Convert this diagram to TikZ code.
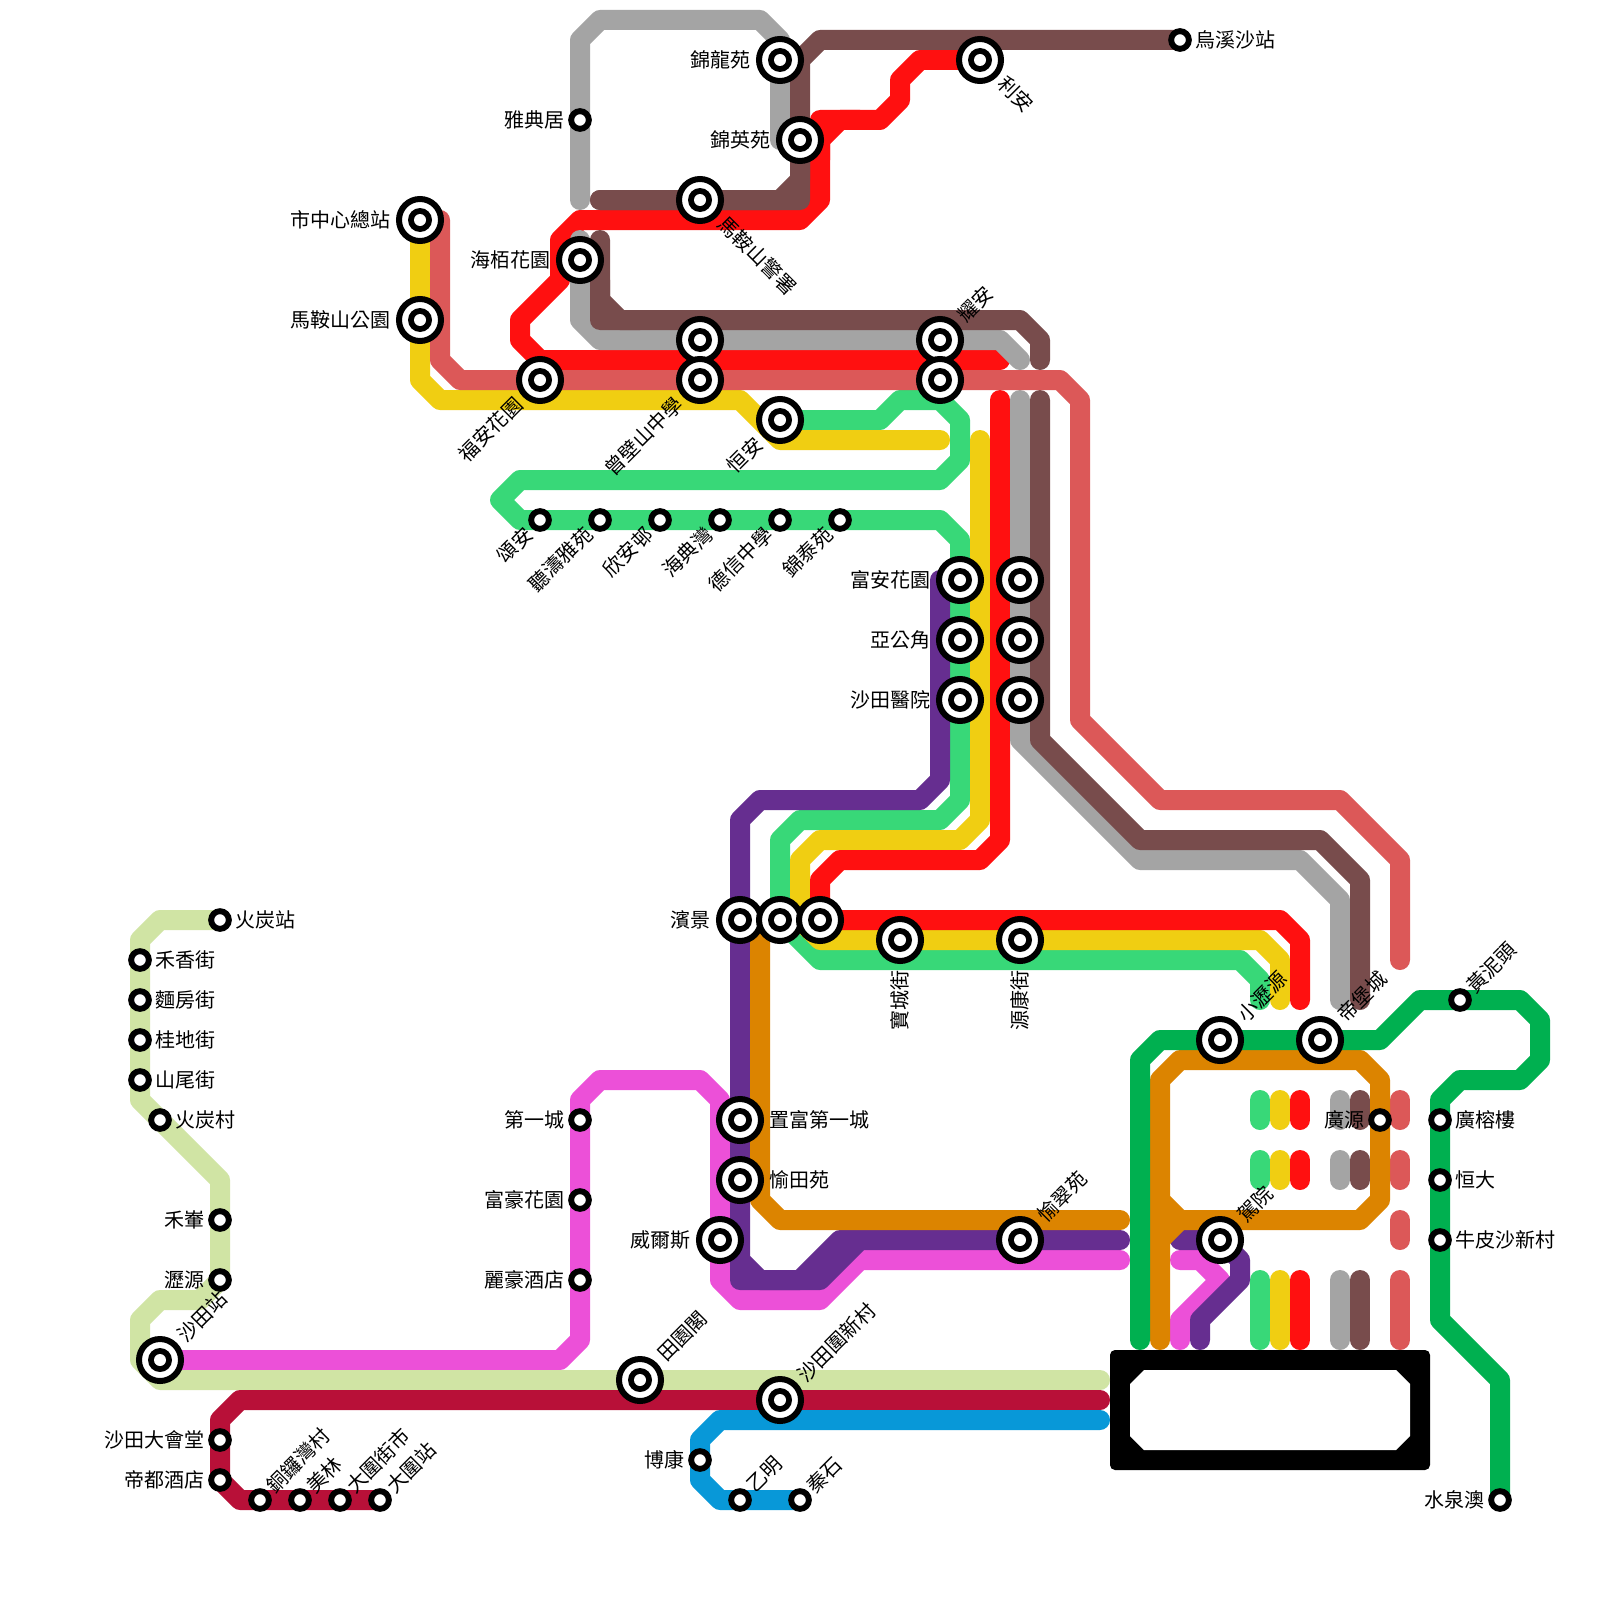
\documentclass[tikz,border=0pt]{standalone}
\usepackage{fontspec}
\setmainfont{Noto Sans CJK TC}
\usetikzlibrary{backgrounds}
\definecolor{cRed}{HTML}{FF1010}
\definecolor{cYel}{HTML}{F0CE12}
\definecolor{cGrn}{HTML}{38D878}
\definecolor{cGry}{HTML}{A4A4A4}
\definecolor{cBrn}{HTML}{784C4C}
\definecolor{cSal}{HTML}{DC5858}
\definecolor{cPur}{HTML}{662E90}
\definecolor{cOrg}{HTML}{DC8400}
\definecolor{cMag}{HTML}{EC50D8}
\definecolor{cDGn}{HTML}{00B050}
\definecolor{cLGn}{HTML}{D0E4A4}
\definecolor{cCrm}{HTML}{B81038}
\definecolor{cBlu}{HTML}{0898D8}
\tikzset{
  ln/.style={draw=#1,line width=20pt,line cap=round,line join=round},
  bigst/.style={circle,draw=black,fill=white,line width=6pt,minimum size=42pt,inner sep=0pt,
    path picture={\fill[black] (path picture bounding box.center) circle (12pt);
                  \fill[white] (path picture bounding box.center) circle (6pt);}},
  smallst/.style={circle,draw=black,fill=white,line width=5.9pt,minimum size=17.7pt,inner sep=0pt},
  lbl/.style={inner sep=0pt,font=\fontsize{20}{20}\selectfont,text=black},
  LB/.style={lbl,anchor=east,xshift=-29pt},
  LS/.style={lbl,anchor=east,xshift=-15pt},
  RB/.style={lbl,anchor=west,xshift=29pt},
  RS/.style={lbl,anchor=west,xshift=15pt},
  UB/.style={lbl,anchor=west,xshift=21pt,yshift=22pt,rotate=45},
  US/.style={lbl,anchor=west,xshift=10pt,yshift=11pt,rotate=45},
  DB/.style={lbl,anchor=east,xshift=-21pt,yshift=-21pt,rotate=45},
  DS/.style={lbl,anchor=east,xshift=-11pt,yshift=-11pt,rotate=45},
  DR/.style={lbl,anchor=west,xshift=22pt,yshift=-20pt,rotate=-45},
  VB/.style={lbl,anchor=east,yshift=-30pt,rotate=90},
}
\begin{document}
\begin{tikzpicture}[x=20pt,y=-20pt]
\useasboundingbox (0,0) rectangle (80,80);
% big stations
\foreach \n/\p in {sZhong/{21,11},sMaGY/{21,16},sFuAn/{27,19},sPoS/{35,17},sZeng/{35,19},sYaoA/{47,17},sYaoB/{47,19},
  sHengA/{39,21},sHaiB/{29,13},sJinL/{39,3},sJinY/{40,7},sMaJ/{35,10},sLiAn/{49,3},
  sFuH/{48,29},sYaG/{48,32},sShaY/{48,35},sRA/{51,29},sRB/{51,32},sRC/{51,35},
  sBinA/{37,46},sBinB/{39,46},sBinC/{41,46},sBao/{45,47},sYuanK/{51,47},
  sZhi/{37,56},sYuT/{37,59},sWei/{36,62},sYuC/{51,62},sJia/{61,62},sXiao/{61,52},sDi/{66,52},
  sShaT/{8,68},sTian/{32,69},sWeiX/{39,70}}
  {\node[bigst] (\n) at (\p) {};}
% small stations
\foreach \n/\p in {sYaD/{29,6},sWu/{59,2},
  sSongA/{27,26},sTing/{30,26},sXinA/{33,26},sHaiD/{36,26},sDeX/{39,26},sJinT/{42,26},
  sHuang/{73,50},sGuangY/{69,56},sGuangR/{72,56},sHengD/{72,59},sNiu/{72,62},sShui/{75,75},
  sHuoZ/{11,46},sHeX/{7,48},sMian/{7,50},sGui/{7,52},sShan/{7,54},sHuoC/{8,56},sHeS/{11,61},sLiY/{11,64},
  sDiYi/{29,56},sFuH2/{29,60},sLiH/{29,64},sDaH/{11,72},sDiD/{11,74},
  sTong/{13,75},sMei/{15,75},sDaW/{17,75},sDaZ/{19,75},sBo/{35,73},sYiM/{37,75},sQin/{40,75}}
  {\node[smallst] (\n) at (\p) {};}
% lines
\begin{pgfonlayer}{background}
\fill[white] (0,0) rectangle (80,80);
% terminal box
\fill[black,rounded corners=5pt] (55.5,67.5) rectangle (71.5,73.5);
\fill[white] (56.5,69.2) -- (57.2,68.5) -- (69.8,68.5) -- (70.5,69.2) -- (70.5,71.8) -- (69.8,72.5) -- (57.2,72.5) -- (56.5,71.8) -- cycle;
% green
\draw[ln=cGrn] (sHengA.center) -- (44,21) -- (45,20) -- (47,20) -- (48,21) -- (48,23) -- (47,24) -- (26,24) -- (25,25) -- (26,26) -- (47,26) -- (48,27) -- (48,40) -- (47,41) -- (40,41) -- (39,42) -- (39,46) -- (41,48) -- (62,48) -- (63,49) -- (63,50);
% yellow
\draw[ln=cYel] (sZhong.center) -- (21,19) -- (22,20) -- (37,20) -- (39,22) -- (47,22);
\draw[ln=cYel] (49,22) -- (49,41) -- (48,42) -- (41,42) -- (40,43) -- (40,46) -- (41,47) -- (63,47) -- (64,48) -- (64,50);
% red
\draw[ln=cRed] (sLiAn.center) -- (46,3) -- (45,4) -- (45,5) -- (44,6) -- (41,6) -- (41,10) -- (40,11) -- (29,11) -- (28,12) -- (28,14) -- (26,16) -- (26,17) -- (27,18) -- (50,18);
\draw[ln=cRed] (43,6) -- (42,6) -- (41,7) -- (41,8);
\draw[ln=cRed] (50,20) -- (50,42) -- (49,43) -- (42,43) -- (41,44) -- (41,46) -- (64,46) -- (65,47) -- (65,50);
% grey
\draw[ln=cGry] (29,10) -- (29,2) -- (30,1) -- (38,1) -- (39,2) -- (39,7);
\draw[ln=cGry] (29,12) -- (29,16) -- (30,17) -- (50,17) -- (51,18);
\draw[ln=cGry] (51,20) -- (51,37) -- (57,43) -- (65,43) -- (67,45) -- (67,50);
% brown
\draw[ln=cBrn] (sWu.center) -- (41,2) -- (40,3) -- (40,10) -- (30,10);
\draw[ln=cBrn] (30,10) -- (39,10) -- (40,9) -- (40,8);
\draw[ln=cBrn] (30,12) -- (30,16) -- (51,16) -- (52,17) -- (52,18);
\draw[ln=cBrn] (30,14) -- (30,15) -- (31,16) -- (32,16);
\draw[ln=cBrn] (52,20) -- (52,37) -- (57,42) -- (66,42) -- (68,44) -- (68,50);
% salmon
\draw[ln=cSal] (22,11) -- (22,18) -- (23,19) -- (53,19) -- (54,20) -- (54,36) -- (58,40) -- (67,40) -- (70,43) -- (70,48);
% stubs
\foreach \c/\x in {cGrn/63,cYel/64,cRed/65,cGry/67,cBrn/68,cSal/70}{
  \draw[ln=\c] (\x,55) -- (\x,56);
  \draw[ln=\c] (\x,58) -- (\x,59);
  \draw[ln=\c] (\x,64) -- (\x,67);
}
\draw[ln=cSal] (70,61) -- (70,62);
% magenta
\draw[ln=cMag] (sShaT.center) -- (28,68) -- (29,67) -- (29,55) -- (30,54) -- (35,54) -- (36,55) -- (36,64) -- (37,65) -- (41,65) -- (43,63) -- (56,63);
\draw[ln=cMag] (59,63) -- (60,63) -- (61,64) -- (59,66) -- (59,67);
% purple
\draw[ln=cPur] (47,29) -- (47,39) -- (46,40) -- (38,40) -- (37,41) -- (37,63) -- (38,64) -- (40,64) -- (42,62) -- (43,62);
\draw[ln=cPur] (37,63) -- (37,64) -- (41,64) -- (43,62) -- (56,62);
\draw[ln=cPur] (59,62) -- (61,62) -- (62,63) -- (62,64) -- (60,66) -- (60,67);
% orange
\draw[ln=cOrg] (sBinB.center) -- (38,46) -- (38,60) -- (39,61) -- (56,61);
\draw[ln=cOrg] (58,67) -- (58,54) -- (59,53) -- (68,53) -- (69,54) -- (69,60) -- (68,61) -- (59,61) -- (58,60);
\draw[ln=cOrg] (59,61) -- (58,62);
% dark green
\draw[ln=cDGn] (57,67) -- (57,53) -- (58,52) -- (69,52) -- (71,50) -- (76,50) -- (77,51) -- (77,53) -- (76,54) -- (73,54) -- (72,55) -- (72,66) -- (75,69) -- (sShui.center);
% light green
\draw[ln=cLGn] (sHuoZ.center) -- (8,46) -- (7,47) -- (7,55) -- (11,59) -- (sLiY.center) -- (10,65) -- (8,65) -- (7,66) -- (7,68) -- (8,69) -- (55,69);
% crimson
\draw[ln=cCrm] (55,70) -- (12,70) -- (11,71) -- (11,74) -- (12,75) -- (sDaZ.center);
% blue
\draw[ln=cBlu] (55,71) -- (36,71) -- (35,72) -- (35,74) -- (36,75) -- (sQin.center);
\end{pgfonlayer}
% labels
\node[LB] (t1) at (sZhong) {市中心總站};
\node[LB] (t2) at (sMaGY) {馬鞍山公園};
\node[DB] (t3) at (sFuAn) {福安花園};
\node[DB] (t4) at (sZeng) {曾壁山中學};
\node[UB] (t5) at (sYaoA) {耀安};
\node[DB] (t6) at (sHengA) {恒安};
\node[LB] (t7) at (sHaiB) {海栢花園};
\node[LS] (t8) at (sYaD) {雅典居};
\node[LB] (t9) at (sJinL) {錦龍苑};
\node[LB] (t10) at (sJinY) {錦英苑};
\node[DR] (t11) at (sMaJ) {馬鞍山警署};
\node[DR] (t12) at (sLiAn) {利安};
\node[RS] (t13) at (sWu) {烏溪沙站};
\node[DS] (t14) at (sSongA) {頌安};
\node[DS] (t15) at (sTing) {聽濤雅苑};
\node[DS] (t16) at (sXinA) {欣安邨};
\node[DS] (t17) at (sHaiD) {海典灣};
\node[DS] (t18) at (sDeX) {德信中學};
\node[DS] (t19) at (sJinT) {錦泰苑};
\node[LB] (t20) at (sFuH) {富安花園};
\node[LB] (t21) at (sYaG) {亞公角};
\node[LB] (t22) at (sShaY) {沙田醫院};
\node[LB] (t23) at (sBinA) {濱景};
\node[VB] (t24) at (sBao) {寶城街};
\node[VB] (t25) at (sYuanK) {源康街};
\node[RB] (t26) at (sZhi) {置富第一城};
\node[RB] (t27) at (sYuT) {愉田苑};
\node[LB] (t28) at (sWei) {威爾斯};
\node[UB] (t29) at (sYuC) {愉翠苑};
\node[UB] (t30) at (sJia) {駕院};
\node[UB] (t31) at (sXiao) {小瀝源};
\node[UB] (t32) at (sDi) {帝堡城};
\node[US] (t33) at (sHuang) {黃泥頭};
\node[LS] (t34) at (sGuangY) {廣源};
\node[RS] (t35) at (sGuangR) {廣榕樓};
\node[RS] (t36) at (sHengD) {恒大};
\node[RS] (t37) at (sNiu) {牛皮沙新村};
\node[LS] (t38) at (sShui) {水泉澳};
\node[RS] (t39) at (sHuoZ) {火炭站};
\node[RS] (t40) at (sHeX) {禾香街};
\node[RS] (t41) at (sMian) {麵房街};
\node[RS] (t42) at (sGui) {桂地街};
\node[RS] (t43) at (sShan) {山尾街};
\node[RS] (t44) at (sHuoC) {火炭村};
\node[LS] (t45) at (sHeS) {禾輋};
\node[LS] (t46) at (sLiY) {瀝源};
\node[UB] (t47) at (sShaT) {沙田站};
\node[LS] (t48) at (sDiYi) {第一城};
\node[LS] (t49) at (sFuH2) {富豪花園};
\node[LS] (t50) at (sLiH) {麗豪酒店};
\node[UB] (t51) at (sTian) {田園閣};
\node[UB] (t52) at (sWeiX) {沙田圍新村};
\node[LS] (t53) at (sDaH) {沙田大會堂};
\node[LS] (t54) at (sDiD) {帝都酒店};
\node[US] (t55) at (sTong) {銅鑼灣村};
\node[US] (t56) at (sMei) {美林};
\node[US] (t57) at (sDaW) {大圍街市};
\node[US] (t58) at (sDaZ) {大圍站};
\node[LS] (t59) at (sBo) {博康};
\node[US] (t60) at (sYiM) {乙明};
\node[US] (t61) at (sQin) {秦石};
\end{tikzpicture}
\end{document}
